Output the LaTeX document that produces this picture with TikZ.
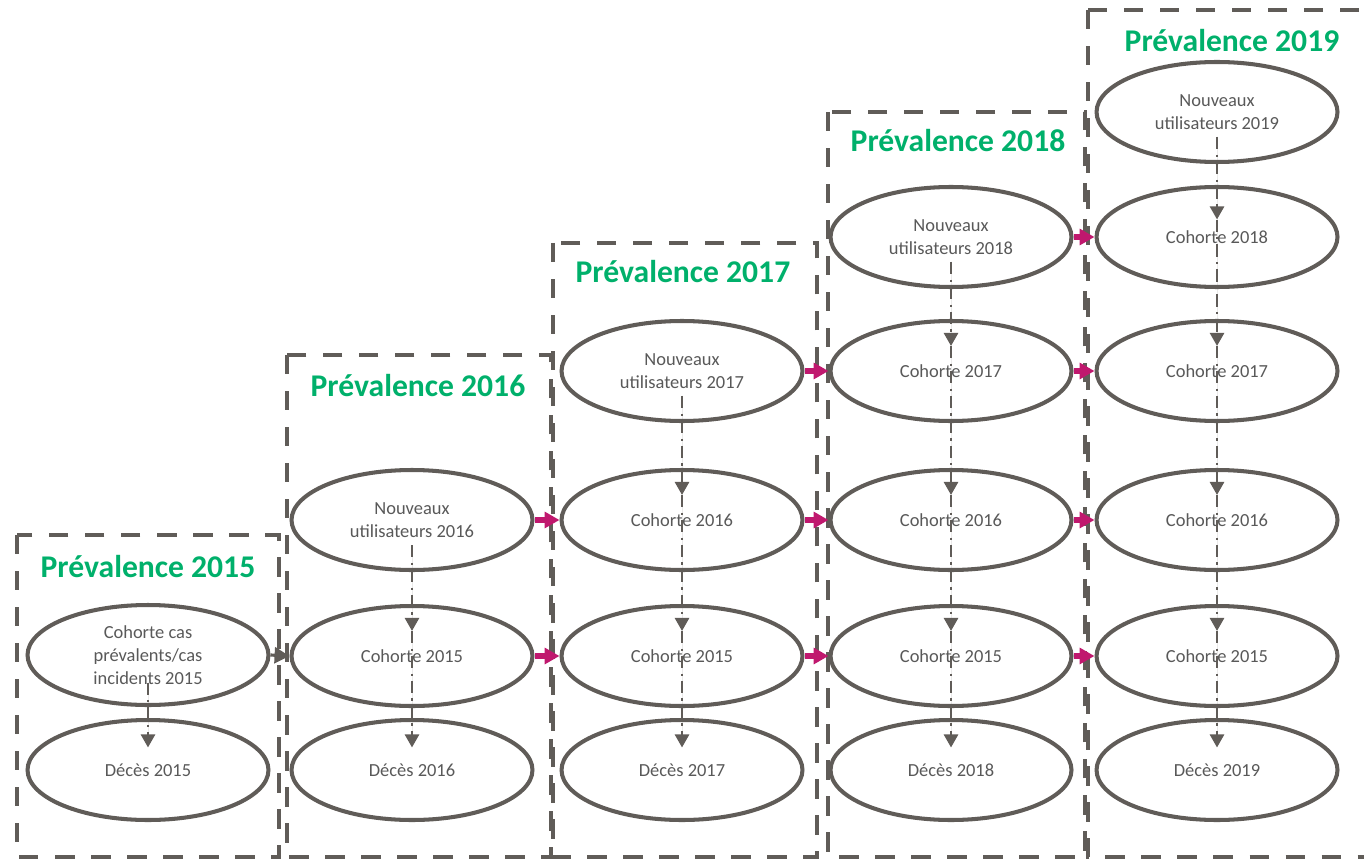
\documentclass[tikz,border=0pt]{standalone}
\usepackage{fontspec}
\setmainfont{Carlito}
\usetikzlibrary{arrows.meta}
\usetikzlibrary{shapes.geometric}

\definecolor{vertprev}{RGB}{0,176,107}
\definecolor{grisfonce}{RGB}{96,92,88}
\definecolor{gristexte}{RGB}{89,89,89}
\definecolor{rosefleche}{RGB}{192,24,110}

\begin{document}
\begin{tikzpicture}[x=0.02cm, y=-0.02cm,
    cohorte/.style={ellipse, draw=grisfonce, fill=white, line width=2.3pt,
      minimum width=4.82cm, minimum height=2cm, inner sep=0pt, align=center,
      text=gristexte, font=\fontsize{10.5}{13}\selectfont},
    titre/.style={text=vertprev, font=\bfseries\fontsize{18}{21}\selectfont},
    boite/.style={draw=grisfonce, line width=2.6pt, dash pattern=on 11pt off 9.5pt},
    passage/.style={draw=rosefleche, line width=3.2pt, -{Triangle[length=8.5pt,width=9pt]}},
    passagegris/.style={draw=grisfonce, fill=grisfonce, line width=1.8pt, -{Triangle[length=8.5pt,width=9pt]}},
    suivi/.style={draw=grisfonce, fill=grisfonce, line width=1.6pt,
      dash pattern=on 7pt off 3pt on 1.2pt off 3pt, -{Triangle[length=7.5pt,width=8pt]}}]
      \useasboundingbox (0, 0) rectangle (1364, 861);

      % dashed frames, one per year
      \draw[boite] (17, 535) rectangle (279, 857);
      \draw[boite] (287, 355) rectangle (551, 857);
      \draw[boite] (553, 243) rectangle (817, 857);
      \draw[boite] (828, 112) rectangle (1085, 857);
      \draw[boite] (1088, 10) rectangle (1385, 857);

      \node[titre] (t15) at (148, 567) {Prévalence 2015};
      \node[titre] (t16) at (418, 386) {Prévalence 2016};
      \node[titre] (t17) at (683, 272) {Prévalence 2017};
      \node[titre] (t18) at (958, 141) {Prévalence 2018};
      \node[titre] (t19) at (1232, 41) {Prévalence 2019};

      % 2015
      \node[cohorte] (cas15) at (148, 655) {Cohorte cas\\prévalents/cas\\incidents 2015};
      \node[cohorte] (dec15) at (148, 770) {Décès 2015};

      % 2016
      \node[cohorte] (nouv16) at (412, 520) {Nouveaux\\utilisateurs 2016};
      \node[cohorte] (c16x15) at (412, 656) {Cohorte 2015};
      \node[cohorte] (dec16) at (412, 770) {Décès 2016};

      % 2017
      \node[cohorte] (nouv17) at (682, 371) {Nouveaux\\utilisateurs 2017};
      \node[cohorte] (c17x16) at (682, 520) {Cohorte 2016};
      \node[cohorte] (c17x15) at (682, 656) {Cohorte 2015};
      \node[cohorte] (dec17) at (682, 770) {Décès 2017};

      % 2018
      \node[cohorte] (nouv18) at (951, 237) {Nouveaux\\utilisateurs 2018};
      \node[cohorte] (c18x17) at (951, 371) {Cohorte 2017};
      \node[cohorte] (c18x16) at (951, 520) {Cohorte 2016};
      \node[cohorte] (c18x15) at (951, 656) {Cohorte 2015};
      \node[cohorte] (dec18) at (951, 770) {Décès 2018};

      % 2019
      \node[cohorte] (nouv19) at (1217, 112) {Nouveaux\\utilisateurs 2019};
      \node[cohorte] (c19x18) at (1217, 237) {Cohorte 2018};
      \node[cohorte] (c19x17) at (1217, 371) {Cohorte 2017};
      \node[cohorte] (c19x16) at (1217, 520) {Cohorte 2016};
      \node[cohorte] (c19x15) at (1217, 656) {Cohorte 2015};
      \node[cohorte] (dec19) at (1217, 770) {Décès 2019};

      % from one year to the next
      \draw[passagegris] (cas15.east) -- (c16x15.west);
      \draw[passage] (nouv16.east) -- (c17x16.west);
      \draw[passage] (c16x15.east) -- (c17x15.west);
      \draw[passage] (nouv17.east) -- (c18x17.west);
      \draw[passage] (c17x16.east) -- (c18x16.west);
      \draw[passage] (c17x15.east) -- (c18x15.west);
      \draw[passage] (nouv18.east) -- (c19x18.west);
      \draw[passage] (c18x17.east) -- (c19x17.west);
      \draw[passage] (c18x16.east) -- (c19x16.west);
      \draw[passage] (c18x15.east) -- (c19x15.west);

      % within a year
      \draw[suivi] ([yshift=-0.55cm]cas15.center) -- ([yshift=0.45cm]dec15.center);
      \draw[suivi] ([yshift=-0.5cm]nouv16.center) -- ([yshift=0.5cm]c16x15.center);
      \draw[suivi] ([yshift=0.5cm]c16x15.center) -- ([yshift=0.45cm]dec16.center);
      \draw[suivi] ([yshift=-0.5cm]nouv17.center) -- ([yshift=0.5cm]c17x16.center);
      \draw[suivi] ([yshift=0.5cm]c17x16.center) -- ([yshift=0.5cm]c17x15.center);
      \draw[suivi] ([yshift=0.5cm]c17x15.center) -- ([yshift=0.45cm]dec17.center);
      \draw[suivi] ([yshift=-0.5cm]nouv18.center) -- ([yshift=0.5cm]c18x17.center);
      \draw[suivi] ([yshift=0.5cm]c18x17.center) -- ([yshift=0.5cm]c18x16.center);
      \draw[suivi] ([yshift=0.5cm]c18x16.center) -- ([yshift=0.5cm]c18x15.center);
      \draw[suivi] ([yshift=0.5cm]c18x15.center) -- ([yshift=0.45cm]dec18.center);
      \draw[suivi] ([yshift=-0.5cm]nouv19.center) -- ([yshift=0.35cm]c19x18.center);
      \draw[suivi] ([yshift=0.35cm]c19x18.center) -- ([yshift=0.5cm]c19x17.center);
      \draw[suivi] ([yshift=0.5cm]c19x17.center) -- ([yshift=0.5cm]c19x16.center);
      \draw[suivi] ([yshift=0.5cm]c19x16.center) -- ([yshift=0.5cm]c19x15.center);
      \draw[suivi] ([yshift=0.5cm]c19x15.center) -- ([yshift=0.45cm]dec19.center);
    \end{tikzpicture}
\end{document}
